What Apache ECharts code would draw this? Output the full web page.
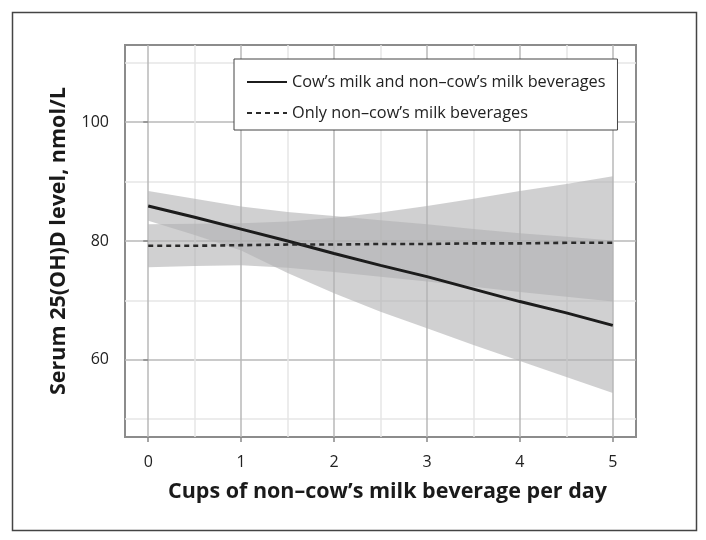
<!DOCTYPE html>
<html><head><meta charset="utf-8">
<script src="https://cdn.jsdelivr.net/npm/echarts@6/dist/echarts.min.js"></script>
<style>html,body{margin:0;padding:0;background:#fff}#c{width:706px;height:540px}</style>
</head><body><div id="c"></div>
<script>
// ---- data ----
const xValues   = [0, 0.5, 1, 1.5, 2, 2.5, 3, 3.5, 4, 4.5, 5];
const bothMean  = [85.9, 84.0, 82.0, 80.0, 77.9, 75.9, 74.0, 71.9, 69.8, 67.9, 65.8];
const bothUpper = [88.4, 87.1, 85.8, 84.9, 84.2, 83.5, 82.8, 82.0, 81.3, 80.7, 80.1];
const bothLower = [83.4, 81.0, 78.4, 74.6, 71.2, 68.1, 65.3, 62.5, 59.8, 57.1, 54.4];
const onlyMean  = [79.2, 79.2, 79.3, 79.4, 79.4, 79.5, 79.5, 79.6, 79.6, 79.7, 79.7];
const onlyUpper = [82.8, 82.9, 83.0, 83.3, 83.9, 84.8, 85.9, 87.1, 88.4, 89.6, 90.9];
const onlyLower = [75.6, 75.8, 75.9, 75.5, 74.8, 74.0, 73.2, 72.3, 71.4, 70.6, 69.8];
const xTicks = [0, 1, 2, 3, 4, 5];
const yTicks = [60, 80, 100];
const seriesNames = ["Cow\u2019s milk and non\u2013cow\u2019s milk beverages", "Only non\u2013cow\u2019s milk beverages"];
const xTitle = "Cups of non\u2013cow\u2019s milk beverage per day";
const yTitle = "Serum 25(OH)D level, nmol/L";

const FONT = "'Open Sans', 'DejaVu Sans', sans-serif";
const chart = echarts.init(document.getElementById('c'), null, {renderer: 'canvas'});

function band(name, upper, lower) {
  return {
    type: 'custom', name: name + ' CI', xAxisIndex: 0, yAxisIndex: 0, silent: true, z: 1,
    data: xValues.map((x, i) => [x, lower[i], upper[i]]),
    encode: {x: 0, y: [1, 2]},
    renderItem: function (params, api) {
      if (params.dataIndex !== 0) return null;
      const pts = [];
      for (let i = 0; i < xValues.length; i++) pts.push(api.coord([xValues[i], upper[i]]));
      for (let i = xValues.length - 1; i >= 0; i--) pts.push(api.coord([xValues[i], lower[i]]));
      return {type: 'polygon', shape: {points: pts}, style: {fill: 'rgba(176,176,178,0.6)'}};
    }
  };
}

const T = 'rgba(0,0,0,0)';
const MAJ = '#b8b8b8', MIN = '#e6e6e6';
const yColors = [];
for (let i = 0; i < 20; i++) yColors.push(i === 3 ? MIN : (i === 13 ? MAJ : T));

chart.setOption({
  animation: false,
  backgroundColor: '#fff',
  grid: {left: 125, right: 70, top: 45, bottom: 103, show: true, borderColor: '#8c8c8c', borderWidth: 2, backgroundColor: '#fff'},
  graphic: [{type: 'rect', left: 10, top: 10, shape: {width: 684, height: 518}, style: {fill: null, stroke: '#444', lineWidth: 1.5}, silent: true}],
  legend: {
    left: 234, top: 59, orient: 'vertical', backgroundColor: '#fff', borderColor: '#444', borderWidth: 1,
    padding: [15, 12, 9, 12], itemWidth: 40, itemHeight: 14, itemGap: 15, selectedMode: false,
    itemStyle: {opacity: 0},
    textStyle: {fontFamily: FONT, fontSize: 16.3, color: '#222'},
    data: seriesNames
  },
  xAxis: [
    {type: 'value', min: -0.25, max: 5.25, interval: 0.25, position: 'top',
     axisLine: {show: false}, axisTick: {show: false}, axisLabel: {show: false},
     splitLine: {show: true, lineStyle: {color: [T, MAJ, T, MIN], width: 1.5}}},
    {type: 'value', min: -0.25, max: 5.25, position: 'bottom',
     axisLine: {show: false},
     axisTick: {show: true, customValues: xTicks, length: 5, lineStyle: {color: '#888', width: 1.5}},
     axisLabel: {customValues: xTicks, margin: 17, fontFamily: FONT, fontSize: 16, color: '#222'},
     splitLine: {show: false},
     name: xTitle, nameLocation: 'middle', nameGap: 44,
     nameTextStyle: {fontFamily: FONT, fontWeight: 'bold', fontSize: 21.5, color: '#1a1a1a', padding: [0, 0, 0, 14]}}
  ],
  yAxis: [
    {type: 'value', min: 47, max: 113, interval: 1, position: 'right',
     axisLine: {show: false}, axisTick: {show: false}, axisLabel: {show: false},
     splitLine: {show: true, lineStyle: {color: yColors, width: 1.5}}},
    {type: 'value', min: 47, max: 113, position: 'left',
     axisLine: {show: false},
     axisTick: {show: true, customValues: yTicks, length: 5, lineStyle: {color: '#888', width: 1.5}},
     axisLabel: {customValues: yTicks, margin: 16, fontFamily: FONT, fontSize: 16, color: '#222'},
     splitLine: {show: false},
     name: yTitle, nameLocation: 'middle', nameGap: 55,
     nameTextStyle: {fontFamily: FONT, fontWeight: 'bold', fontSize: 21.5, color: '#1a1a1a'}}
  ],
  series: [
    band(seriesNames[1], onlyUpper, onlyLower),
    band(seriesNames[0], bothUpper, bothLower),
    {type: 'line', name: seriesNames[0], xAxisIndex: 0, yAxisIndex: 0, z: 3, symbol: 'none', showSymbol: false,
     data: xValues.map((x, i) => [x, bothMean[i]]),
     lineStyle: {color: '#1c1c1c', width: 3}, itemStyle: {color: '#1c1c1c'}},
    {type: 'line', name: seriesNames[1], xAxisIndex: 0, yAxisIndex: 0, z: 3, symbol: 'none', showSymbol: false,
     data: xValues.map((x, i) => [x, onlyMean[i]]),
     lineStyle: {color: '#2a2a2a', width: 2.6, type: [5, 4]}, itemStyle: {color: '#2a2a2a'}}
  ]
});
</script></body></html>
